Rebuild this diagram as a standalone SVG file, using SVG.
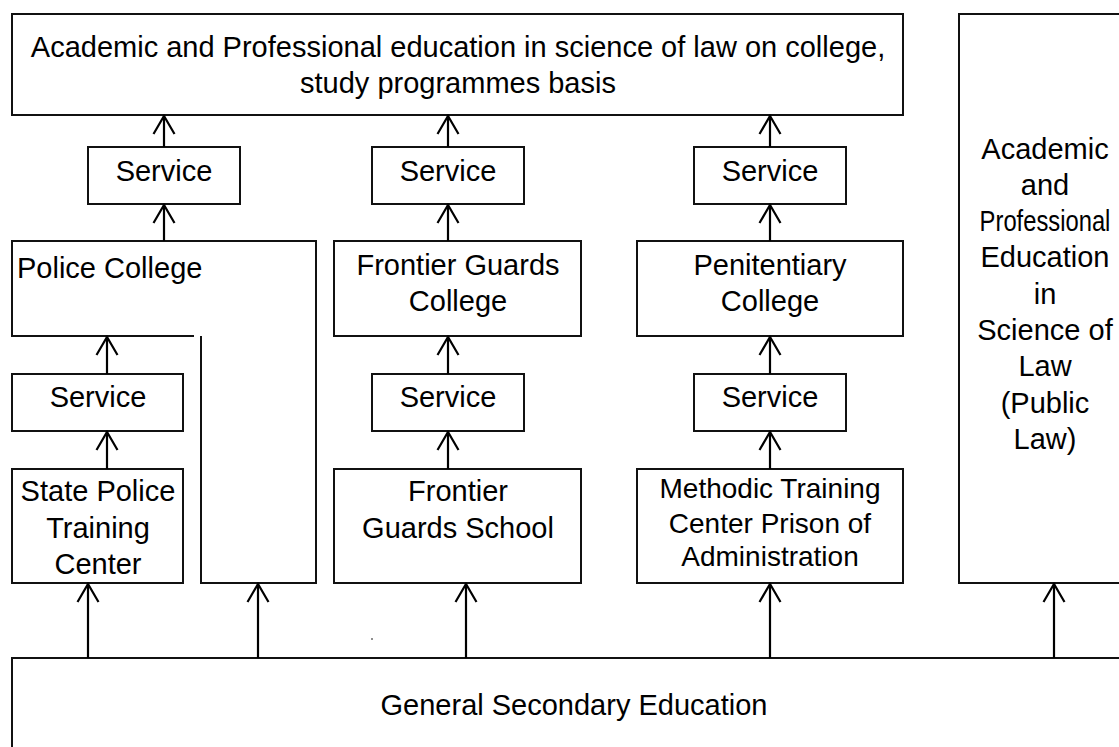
<svg xmlns="http://www.w3.org/2000/svg" width="1119" height="747" viewBox="0 0 1119 747">
<style>
.box{fill:#fff;stroke:#111;stroke-width:2}
.t{font-family:"Liberation Sans",Arial,sans-serif;font-size:29px;fill:#000;text-anchor:middle}
.s{font-size:28px}
.l{text-anchor:start}
.c{fill:none;stroke:#000;stroke-width:2.2}
</style>
<defs>
<marker id="ah" markerUnits="userSpaceOnUse" viewBox="0 0 22 24" refX="20" refY="12" markerWidth="22" markerHeight="24" orient="auto">
<path d="M2,1.5 L20,12 L2,22.5" fill="none" stroke="#000" stroke-width="2.2"/>
</marker>
</defs>
<rect width="1119" height="747" fill="#fff"/>
<g id="top">
<rect class="box" x="12" y="14" width="891" height="101"/>
<text class="t" x="458" y="57">Academic and Professional education in science of law on college,</text>
<text class="t" x="458" y="93">study programmes basis</text>
</g>
<g id="right">
<rect class="box" x="959" y="14" width="172" height="569"/>
<text class="t" x="1045" y="159">Academic</text>
<text class="t" x="1045" y="195">and</text>
<text class="t" transform="translate(1045,231) scale(0.82,1)" x="0" y="0">Professional</text>
<text class="t" x="1045" y="267">Education</text>
<text class="t" x="1045" y="304">in</text>
<text class="t" x="1045" y="340">Science of</text>
<text class="t" x="1045" y="376">Law</text>
<text class="t" x="1045" y="413">(Public</text>
<text class="t" x="1045" y="449">Law)</text>
</g>
<g id="bottom">
<rect class="box" x="12" y="658" width="1124" height="100"/>
<text class="t" x="574" y="715">General Secondary Education</text>
</g>
<g id="service1">
<rect class="box" x="88" y="147" width="152" height="57"/>
<text class="t" x="164" y="181">Service</text>
</g>
<g id="service2">
<rect class="box" x="372" y="147" width="152" height="57"/>
<text class="t" x="448" y="181">Service</text>
</g>
<g id="service3">
<rect class="box" x="694" y="147" width="152" height="57"/>
<text class="t" x="770" y="181">Service</text>
</g>
<g id="police-college">
<path class="box" d="M194,336 H12 V241 H316 V583 H201 V336" fill="#fff"/>
<text class="t l" x="17" y="278">Police College</text>
</g>
<g id="frontier-college">
<rect class="box" x="334" y="241" width="247" height="95"/>
<text class="t" x="458" y="275">Frontier Guards</text>
<text class="t" x="458" y="311">College</text>
</g>
<g id="penitentiary-college">
<rect class="box" x="637" y="241" width="266" height="95"/>
<text class="t" x="770" y="275">Penitentiary</text>
<text class="t" x="770" y="311">College</text>
</g>
<g id="service4">
<rect class="box" x="12" y="374" width="171" height="57"/>
<text class="t" x="98" y="407">Service</text>
</g>
<g id="service5">
<rect class="box" x="372" y="374" width="152" height="57"/>
<text class="t" x="448" y="407">Service</text>
</g>
<g id="service6">
<rect class="box" x="694" y="374" width="152" height="57"/>
<text class="t" x="770" y="407">Service</text>
</g>
<g id="state-police">
<rect class="box" x="12" y="469" width="171" height="114"/>
<text class="t" x="98" y="501">State Police</text>
<text class="t" x="98" y="538">Training</text>
<text class="t" x="98" y="574">Center</text>
</g>
<g id="frontier-school">
<rect class="box" x="334" y="469" width="247" height="114"/>
<text class="t" x="458" y="501">Frontier</text>
<text class="t" x="458" y="538">Guards School</text>
</g>
<g id="methodic">
<rect class="box" x="637" y="469" width="266" height="114"/>
<text class="t s" x="770" y="498">Methodic Training</text>
<text class="t s" x="770" y="533">Center Prison of</text>
<text class="t s" x="770" y="566">Administration</text>
</g>
<g id="connectors">
<line class="c" x1="164" y1="147" x2="164" y2="116" marker-end="url(#ah)"/>
<line class="c" x1="448" y1="147" x2="448" y2="116" marker-end="url(#ah)"/>
<line class="c" x1="770" y1="147" x2="770" y2="116" marker-end="url(#ah)"/>
<line class="c" x1="164" y1="241" x2="164" y2="205" marker-end="url(#ah)"/>
<line class="c" x1="448" y1="241" x2="448" y2="205" marker-end="url(#ah)"/>
<line class="c" x1="770" y1="241" x2="770" y2="205" marker-end="url(#ah)"/>
<line class="c" x1="107" y1="374" x2="107" y2="337" marker-end="url(#ah)"/>
<line class="c" x1="448" y1="374" x2="448" y2="337" marker-end="url(#ah)"/>
<line class="c" x1="770" y1="374" x2="770" y2="337" marker-end="url(#ah)"/>
<line class="c" x1="107" y1="469" x2="107" y2="432" marker-end="url(#ah)"/>
<line class="c" x1="448" y1="469" x2="448" y2="432" marker-end="url(#ah)"/>
<line class="c" x1="770" y1="469" x2="770" y2="432" marker-end="url(#ah)"/>
<line class="c" x1="88" y1="658" x2="88" y2="584" marker-end="url(#ah)"/>
<line class="c" x1="258" y1="658" x2="258" y2="584" marker-end="url(#ah)"/>
<line class="c" x1="466" y1="658" x2="466" y2="584" marker-end="url(#ah)"/>
<line class="c" x1="770" y1="658" x2="770" y2="584" marker-end="url(#ah)"/>
<line class="c" x1="1054" y1="658" x2="1054" y2="584" marker-end="url(#ah)"/>
</g>
<circle cx="372" cy="639" r="0.8" fill="#000"/>
</svg>
